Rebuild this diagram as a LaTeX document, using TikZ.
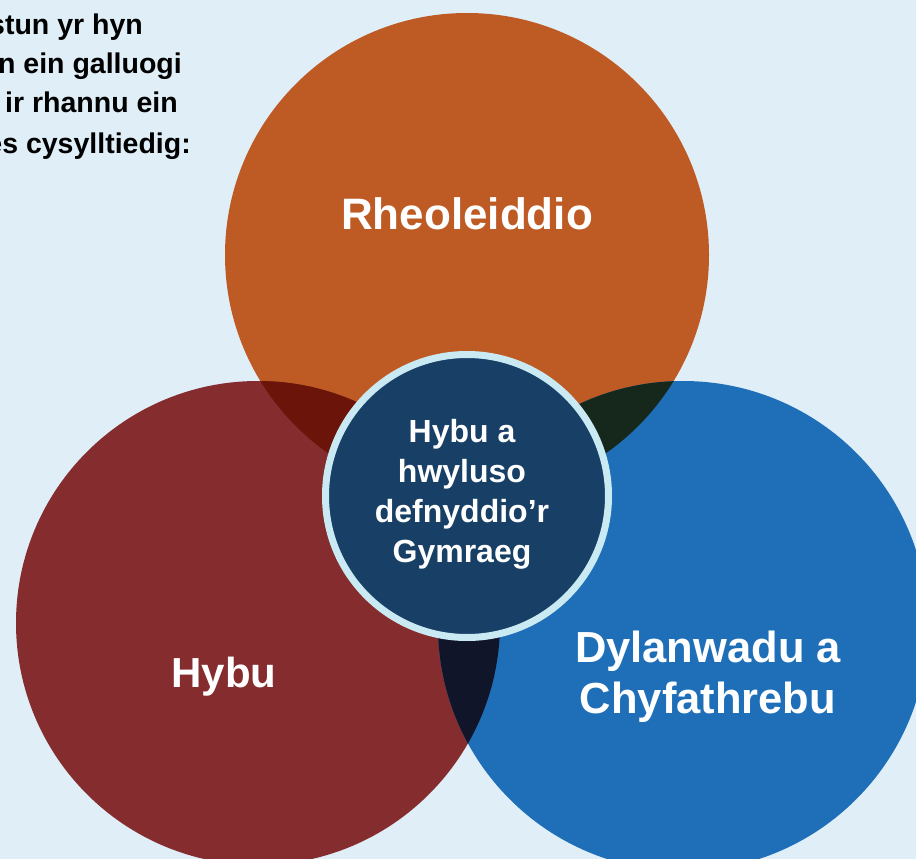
\documentclass[tikz,border=0pt]{standalone}
\usepackage{fontspec}
\setmainfont{Liberation Sans}
\definecolor{bgc}{HTML}{E0EEF8}
\definecolor{orangec}{HTML}{BE5A24}
\definecolor{redc}{HTML}{842C2E}
\definecolor{bluec}{HTML}{1F6FB8}
\definecolor{orred}{HTML}{6A140A}
\definecolor{orblue}{HTML}{16281C}
\definecolor{redblue}{HTML}{10152A}
\definecolor{navyc}{HTML}{183F66}
\definecolor{ringc}{HTML}{C9EAF3}
\tikzset{
  bigtext/.style={font=\fontsize{43.5}{50}\selectfont\bfseries, text=white, inner sep=0pt},
  midtext/.style={font=\fontsize{32}{38}\selectfont\bfseries, text=white, inner sep=0pt},
  intro/.style={font=\fontsize{28.5}{38}\selectfont\bfseries, text=black, inner sep=0pt, anchor=base east},
}
\begin{document}
\begin{tikzpicture}[x=1pt,y=-1pt]
\useasboundingbox (0,0) rectangle (916,859);
\clip (0,0) rectangle (916,859);
\fill[bgc] (0,0) rectangle (916,859);
% intro text (cut at the left edge, as in the source)
\node[intro] (t1) at (143,35) {stun yr hyn};
\node[intro] (t2) at (182,74) {n ein galluogi};
\node[intro] (t3) at (178,113) {ir rhannu ein};
\node[intro] (t4) at (191,153) {es cysylltiedig:};
% circles
\fill[orangec] (467,255) circle[radius=242pt];
\fill[redc] (258,623) circle[radius=242pt];
\fill[bluec] (683,626) circle[radius=245pt];
% overlaps
\begin{scope}
  \clip (467,255) circle[radius=242pt];
  \fill[orred] (258,623) circle[radius=242pt];
\end{scope}
\begin{scope}
  \clip (467,255) circle[radius=242pt];
  \fill[orblue] (683,626) circle[radius=245pt];
\end{scope}
\begin{scope}
  \clip (258,623) circle[radius=242pt];
  \fill[redblue] (683,626) circle[radius=245pt];
\end{scope}
% centre circle
\fill[navyc, draw=ringc, line width=7pt] (467,496) circle[radius=141.5pt];
% labels
\node[bigtext, anchor=base, font=\fontsize{44}{50}\selectfont\bfseries] (rheo) at (467,229) {Rheoleiddio};
\node[bigtext, anchor=base, font=\fontsize{42}{50}\selectfont\bfseries] (hybu) at (224,687) {Hybu};
\node[bigtext, anchor=base] (dyl1) at (708,662) {Dylanwadu a};
\node[bigtext, anchor=base] (dyl2) at (708,713) {Chyfathrebu};
\node[midtext, anchor=base] (c1) at (462,442) {Hybu a};
\node[midtext, anchor=base] (c2) at (462,482) {hwyluso};
\node[midtext, anchor=base] (c3) at (462,522) {defnyddio’r};
\node[midtext, anchor=base] (c4) at (462,562) {Gymraeg};
\end{tikzpicture}
\end{document}
